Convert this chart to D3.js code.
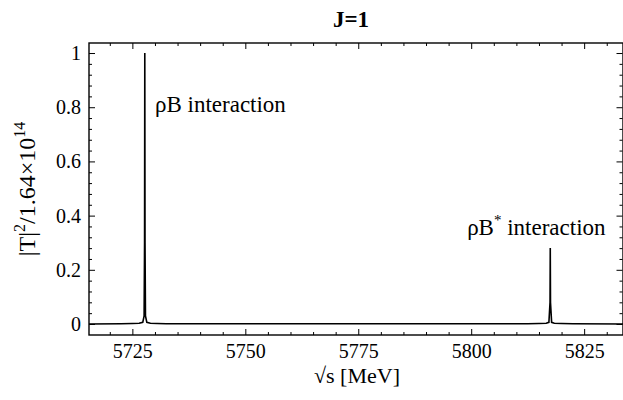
<!DOCTYPE html>
<html>
<head>
<meta charset="utf-8">
<script src="https://cdn.jsdelivr.net/npm/d3@7"></script>
<style>
    body { margin: 0; background: #fff; }
    .tick line { stroke: #000; stroke-width: 1; }
</style>
</head>
<body>
<svg id="chart" width="623" height="400"></svg>
<script>
    const serif = "'Liberation Serif', 'Times New Roman', Times, 'DejaVu Serif', serif";

    // sqrt(s) in MeV, |T|^2 normalised
    const energy = [5715, 5722.5, 5725, 5726.5, 5727.3, 5727.6, 5727.7, 5727.75, 5727.8, 5727.9, 5728.2, 5729, 5730.5, 5732.5,
                    5812.5, 5815, 5816.6, 5817.2, 5817.45, 5817.5, 5817.55, 5817.8, 5818.4, 5820, 5822.5, 5834];
    const tsq    = [0, 0.001, 0.002, 0.003, 0.006, 0.03, 0.3, 1.0, 0.3, 0.03, 0.006, 0.003, 0.002, 0.001,
                    0.001, 0.002, 0.003, 0.006, 0.08, 0.28, 0.08, 0.006, 0.003, 0.002, 0.001, 0];

    const xTicks = [5725, 5750, 5775, 5800, 5825];
    const yTicks = [0, 0.2, 0.4, 0.6, 0.8, 1];

    const labels = [
        {text: "ρB interaction", sup: "", e: 5730, v: 0.782},
        {text: "ρB", sup: "*", rest: " interaction", e: 5799.1, v: 0.328}
    ];

    const L = 89, T = 43, R = 623, B = 335;
    const svg = d3.select("#chart").attr("font-family", serif).style("font-family", serif);

    const x = d3.scaleLinear().domain([5715.4, 5833.6]).range([L, R]);
    const y = d3.scaleLinear().domain([-0.0406, 1.037]).range([B, T]);

    const xMinor = x.ticks(24).filter(d => !xTicks.includes(d));
    const yMinor = d3.range(0, 1.04, 0.04).filter(d => !yTicks.some(t => Math.abs(t - d) < 1e-6));

    svg.append("clipPath").attr("id", "clip")
        .append("rect").attr("x", L).attr("y", T).attr("width", R - L).attr("height", B - T);

    // data line
    svg.append("path")
        .datum(energy.map((e, i) => [e, tsq[i]]))
        .attr("clip-path", "url(#clip)")
        .attr("fill", "none")
        .attr("stroke", "#000")
        .attr("stroke-width", 1.6)
        .attr("d", d3.line().x(d => x(d[0])).y(d => y(d[1])));

    function axis(gen, tr, vals, size, labelled, pad) {
        const g = svg.append("g").attr("transform", tr)
            .call(gen.tickValues(vals).tickSize(size).tickPadding(pad || 9)
                .tickFormat(labelled ? (d => d3.format("")(+d.toFixed(2))) : ""));
        g.attr("font-family", null);
        g.select(".domain").remove();
        g.selectAll("text").attr("font-size", 20).style("font-family", serif);
        return g;
    }

    axis(d3.axisBottom(x), `translate(0,${B})`, xTicks, -6, true);
    axis(d3.axisBottom(x), `translate(0,${B})`, xMinor, -3, false);
    axis(d3.axisTop(x), `translate(0,${T})`, xTicks, -6, false);
    axis(d3.axisTop(x), `translate(0,${T})`, xMinor, -3, false);
    axis(d3.axisLeft(y), `translate(${L},0)`, yTicks, -6, true, 8);
    axis(d3.axisLeft(y), `translate(${L},0)`, yMinor, -3, false);
    axis(d3.axisRight(y), `translate(${R - 0.5},0)`, yTicks, -6, false);
    axis(d3.axisRight(y), `translate(${R - 0.5},0)`, yMinor, -3, false);

    svg.append("rect")
        .attr("x", L).attr("y", T).attr("width", R - L).attr("height", B - T)
        .attr("fill", "none").attr("stroke", "#000").attr("stroke-width", 1.4);

    // peak annotations
    labels.forEach(l => {
        const t = svg.append("text").attr("x", x(l.e)).attr("y", y(l.v)).attr("font-size", 23).style("font-family", serif);
        t.append("tspan").text(l.text);
        if (l.sup) {
            t.append("tspan").attr("dy", -10).attr("font-size", 15).text(l.sup);
            t.append("tspan").attr("dy", 10).text(l.rest);
        }
    });

    // title
    svg.append("text").attr("x", 351).attr("y", 27).style("font-family", serif)
        .attr("text-anchor", "middle").attr("font-size", 23).attr("font-weight", "bold")
        .text("J=1");

    // x label
    svg.append("text").attr("x", 357).attr("y", 383).style("font-family", serif)
        .attr("text-anchor", "middle").attr("font-size", 22)
        .text("√s [MeV]");

    // y label
    const yl = svg.append("text").style("font-family", serif)
        .attr("transform", `translate(35,${(T + B) / 2}) rotate(-90)`)
        .attr("text-anchor", "middle").attr("font-size", 24);
    yl.append("tspan").text("|T|");
    yl.append("tspan").attr("dy", -10).attr("font-size", 16).text("2");
    yl.append("tspan").attr("dy", 10).text("/1.64×10");
    yl.append("tspan").attr("dy", -10).attr("font-size", 16).text("14");
</script>
</body>
</html>
